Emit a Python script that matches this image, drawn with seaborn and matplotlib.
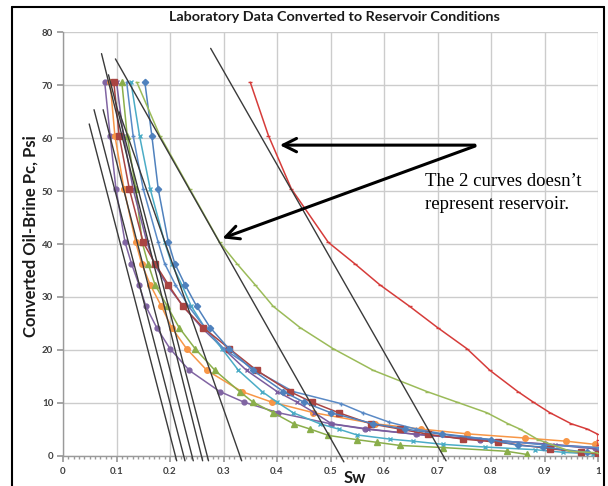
import numpy as np
import pandas as pd
import matplotlib
matplotlib.use("Agg")
import matplotlib.pyplot as plt
import seaborn as sns
from matplotlib.lines import Line2D

sns.set_theme(style="white")
plt.rcParams["font.family"] = ["Lato", "DejaVu Sans"]

# ---------------- data ----------------
sw_purple_o = [0.078, 0.088, 0.099, 0.116, 0.128, 0.142, 0.155, 0.175, 0.200, 0.236, 0.293, 0.338, 0.402, 0.500, 0.565, 0.660, 0.780, 0.900, 0.995]
pc_purple_o = [70.6, 60.5, 50.4, 40.3, 36.3, 32.3, 28.2, 24.2, 20.2, 16.1, 12.1, 10.1, 8.1, 6.0, 5.0, 4.0, 3.0, 2.2, 1.5]

sw_orange = [0.088, 0.097, 0.114, 0.136, 0.147, 0.163, 0.184, 0.203, 0.231, 0.269, 0.334, 0.390, 0.468, 0.583, 0.670, 0.755, 0.864, 0.941, 0.995]
pc_orange = [70.6, 60.5, 50.4, 40.3, 36.3, 32.3, 28.2, 24.2, 20.2, 16.1, 12.1, 10.1, 8.1, 6.0, 5.0, 4.1, 3.3, 2.7, 2.1]

sw_darkred = [0.095, 0.105, 0.124, 0.150, 0.172, 0.197, 0.224, 0.262, 0.311, 0.362, 0.424, 0.465, 0.515, 0.575, 0.630, 0.683, 0.748, 0.814, 0.910, 0.969, 1.0]
pc_darkred = [70.6, 60.5, 50.4, 40.3, 36.3, 32.3, 28.2, 24.2, 20.2, 16.1, 12.1, 10.1, 8.1, 6.0, 5.0, 4.0, 3.1, 2.5, 1.3, 0.6, 0.3]

sw_green = [0.110, 0.120, 0.136, 0.148, 0.159, 0.172, 0.195, 0.217, 0.247, 0.284, 0.330, 0.355, 0.393, 0.431, 0.462, 0.496, 0.549, 0.586, 0.630, 0.711, 0.829, 0.867]
pc_green = [70.6, 60.5, 50.4, 40.3, 36.3, 32.3, 28.2, 24.2, 20.2, 16.1, 12.1, 10.1, 8.1, 6.0, 5.0, 3.8, 3.0, 2.5, 1.9, 1.5, 0.8, 0.2]

sw_purple_x = [0.100, 0.113, 0.131, 0.157, 0.170, 0.194, 0.225, 0.259, 0.300, 0.343, 0.400, 0.437, 0.470, 0.502, 0.571, 0.661, 0.780, 0.920, 1.0]
pc_purple_x = [70.6, 60.5, 50.4, 40.3, 36.3, 32.3, 28.2, 24.2, 20.2, 16.1, 12.1, 10.1, 8.1, 6.0, 5.0, 4.0, 3.0, 2.0, 1.2]

sw_aqua = [0.127, 0.143, 0.163, 0.190, 0.203, 0.222, 0.240, 0.265, 0.297, 0.328, 0.372, 0.400, 0.430, 0.480, 0.515, 0.549, 0.611, 0.655, 0.711, 0.789, 0.882, 0.935, 0.990]
pc_aqua = [70.6, 60.5, 50.4, 40.3, 36.3, 32.3, 28.2, 24.2, 20.2, 16.1, 12.1, 10.1, 8.1, 6.0, 5.0, 3.9, 3.1, 2.7, 2.1, 1.6, 1.1, 0.6, 0.3]

sw_blue_d = [0.153, 0.166, 0.178, 0.197, 0.209, 0.228, 0.250, 0.275, 0.310, 0.355, 0.412, 0.450, 0.500, 0.580, 0.640, 0.708, 0.800, 0.851, 0.898, 0.979]
pc_blue_d = [70.6, 60.5, 50.4, 40.3, 36.3, 32.3, 28.2, 24.2, 20.2, 16.1, 12.1, 10.1, 8.1, 6.0, 5.0, 4.0, 3.0, 1.9, 1.6, 0.6]

sw_blue_p = [0.119, 0.131, 0.150, 0.178, 0.190, 0.210, 0.235, 0.265, 0.300, 0.360, 0.430, 0.520, 0.560, 0.610, 0.660, 0.710, 0.800, 0.900, 1.0]
pc_blue_p = [70.6, 60.5, 50.4, 40.3, 36.3, 32.3, 28.2, 24.2, 20.2, 16.1, 12.1, 9.8, 8.1, 6.3, 5.0, 4.1, 3.0, 2.0, 1.5]

sw_lgreen = [0.138, 0.181, 0.237, 0.293, 0.325, 0.359, 0.393, 0.443, 0.505, 0.580, 0.680, 0.736, 0.792, 0.832, 0.854, 0.888, 0.948, 1.0]
pc_lgreen = [70.6, 60.5, 50.4, 40.3, 36.3, 32.3, 28.2, 24.2, 20.2, 16.1, 12.1, 10.1, 8.1, 6.0, 5.0, 3.0, 0.8, 0.5]

sw_red = [0.350, 0.384, 0.427, 0.496, 0.545, 0.592, 0.648, 0.700, 0.755, 0.798, 0.850, 0.879, 0.910, 0.950, 0.980, 1.0, 1.0, 1.0]
pc_red = [70.6, 60.5, 50.4, 40.3, 36.3, 32.3, 28.2, 24.2, 20.2, 16.1, 12.1, 10.1, 8.1, 6.0, 5.0, 4.0, 3.0, 2.0]

# straight tangent lines: start (x, y) -> end (x, y)
tan_x0 = [0.049, 0.058, 0.075, 0.072, 0.085, 0.105, 0.098, 0.276]
tan_y0 = [62.7, 65.4, 65.4, 76.0, 72.0, 65.0, 75.0, 77.0]
tan_x1 = [0.2125, 0.228, 0.2435, 0.261, 0.272, 0.334, 0.525, 0.716]
tan_y1 = [-1.0, -1.0, -1.0, -1.0, -1.0, -1.0, -1.2, -1.0]

x_ticks = [0, 0.1, 0.2, 0.3, 0.4, 0.5, 0.6, 0.7, 0.8, 0.9, 1.0]
x_tick_labels = ["0", "0.1", "0.2", "0.3", "0.4", "0.5", "0.6", "0.7", "0.8", "0.9", "1"]
y_ticks = [0, 10, 20, 30, 40, 50, 60, 70, 80]

series = [
    (sw_purple_o, pc_purple_o, "#8064A2", "o", 3.5),
    (sw_orange, pc_orange, "#F79646", "o", 4),
    (sw_green, pc_green, "#8AAE4A", "^", 4),
    (sw_purple_x, pc_purple_x, "#7A5C9E", "x", 3.5),
    (sw_aqua, pc_aqua, "#4BACC6", "x", 3.5),
    (sw_blue_p, pc_blue_p, "#5A8AC6", "+", 3.5),
    (sw_darkred, pc_darkred, "#A94442", "s", 3.8),
    (sw_blue_d, pc_blue_d, "#4F81BD", "D", 3.2),
    (sw_lgreen, pc_lgreen, "#9BBB59", "_", 3.5),
    (sw_red, pc_red, "#D63C3A", "_", 3.5),
]

# ---------------- figure ----------------
fig = plt.figure(figsize=(6.08, 4.86), dpi=100)
ax = fig.add_axes([63 / 608, 1 - 455.5 / 486, 535 / 608, 423 / 486])

for sw, pc, color, marker, ms in series:
    df = pd.DataFrame({"Sw": sw, "Pc": pc})
    sns.lineplot(data=df, x="Sw", y="Pc", sort=False, estimator=None, ax=ax,
                 color=color, linewidth=1.1, marker=marker, markersize=ms,
                 markeredgecolor=color, markeredgewidth=1.0, zorder=3)

for x0, y0, x1, y1 in zip(tan_x0, tan_y0, tan_x1, tan_y1):
    tdf = pd.DataFrame({"Sw": [x0, x1], "Pc": [y0, y1]})
    sns.lineplot(data=tdf, x="Sw", y="Pc", sort=False, estimator=None, ax=ax,
                 color="#3a3a3a", linewidth=1.0, clip_on=False, zorder=4)

ax.set_xlim(0, 1)
ax.set_ylim(0, 80)
ax.set_xticks(x_ticks)
ax.set_xticklabels(x_tick_labels)
ax.set_yticks(y_ticks)
ax.set_xticks(np.arange(0, 1.001, 0.01), minor=True)
ax.grid(True, which="major", color="#cccccc", linewidth=1.0)
ax.set_axisbelow(True)
for s in ["top", "right"]:
    ax.spines[s].set_visible(False)
for s in ["left", "bottom"]:
    ax.spines[s].set_color("#9a9a9a")
    ax.spines[s].set_linewidth(1.0)
ax.tick_params(axis="y", which="major", direction="out", length=4, color="#9a9a9a",
               labelsize=7, labelcolor="#404040", pad=3, left=True)
ax.tick_params(axis="x", which="major", direction="out", length=4, color="#9a9a9a",
               labelsize=7, labelcolor="#404040", pad=4, bottom=True)
ax.tick_params(axis="x", which="minor", direction="out", length=2.5, color="#9a9a9a", bottom=True)
for lab in ax.get_xticklabels() + ax.get_yticklabels():
    lab.set_fontweight("bold")

ax.set_xlabel("")
ax.set_ylabel("")
fig.text(355 / 608, 1 - 478 / 486, "Sw", ha="center", va="center", fontsize=12, fontweight="bold", color="#1a1a1a")
fig.text(31 / 608, 1 - 236 / 486, "Converted Oil-Brine Pc, Psi", rotation=90, ha="center", va="center",
         fontsize=12, fontweight="bold", color="#1a1a1a")
fig.text(334 / 608, 1 - 17 / 486, "Laboratory Data Converted to Reservoir Conditions", ha="center", va="center",
         fontsize=10.4, fontweight="bold", color="#1a1a1a")

# annotation
ax.annotate("", xy=(0.40, 58.7), xytext=(0.775, 58.7),
            arrowprops=dict(arrowstyle="->", color="black", lw=2.2, mutation_scale=24), zorder=6)
ax.annotate("", xy=(0.293, 40.9), xytext=(0.775, 58.7),
            arrowprops=dict(arrowstyle="->", color="black", lw=2.2, mutation_scale=24), zorder=6)
ax.text(0.677, 51.8, "The 2 curves doesn\u2019t", family=["Liberation Serif", "DejaVu Serif"],
        fontsize=13.5, ha="left", va="center", color="black")
ax.text(0.677, 47.4, "represent reservoir.", family=["Liberation Serif", "DejaVu Serif"],
        fontsize=13.5, ha="left", va="center", color="black")

# outer frame
for xs, ys in [([12 / 608, 12 / 608], [0, 1 - 7 / 486]),
               ([12 / 608, 604 / 608], [1 - 7 / 486, 1 - 7 / 486]),
               ([604 / 608, 604 / 608], [1 - 7 / 486, 0])]:
    fig.add_artist(Line2D(xs, ys, color="black", linewidth=1.5, transform=fig.transFigure))

fig.savefig("out.png", dpi=100)
